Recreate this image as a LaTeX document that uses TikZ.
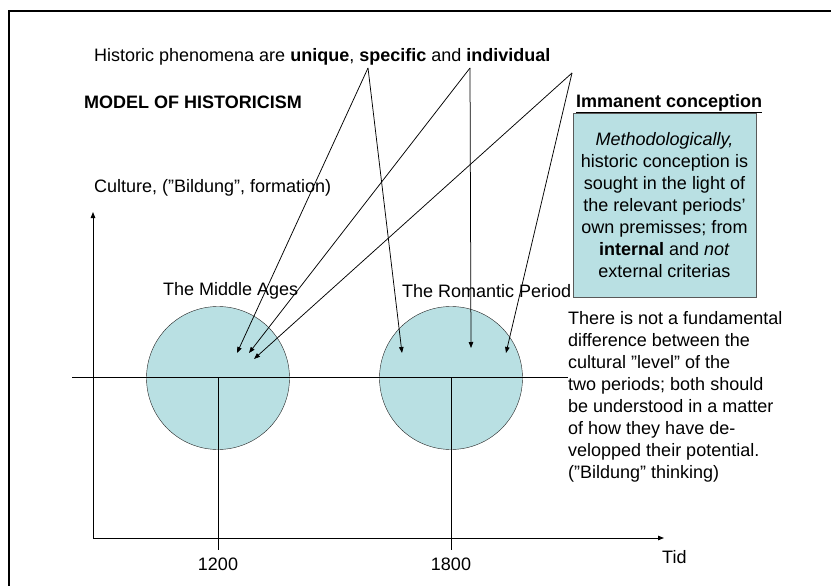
\documentclass[tikz,border=0pt]{standalone}
\usepackage{fontspec}
\setmainfont{Liberation Sans}
\usetikzlibrary{positioning, arrows.meta}

\definecolor{periodfill}{RGB}{185,224,227}

\begin{document}
\begin{tikzpicture}[
  x=1pt, y=-1pt,
  txt/.style={font=\fontsize{18}{22}\selectfont, inner sep=0pt},
  period/.style={circle, draw=black!85, fill=periodfill, minimum size=143pt, inner sep=0pt},
  infobox/.style={rectangle, draw=black!65, fill=periodfill, minimum width=183pt, minimum height=184pt,
    align=center, font=\fontsize{18}{22}\selectfont, inner sep=0pt},
  arrow/.style={-{Triangle[length=6pt, width=4.5pt]}, line width=0.75pt},
  axis/.style={-{Triangle[length=6pt, width=4.5pt]}, line width=1pt}
]

  \useasboundingbox (0,0) rectangle (831,586);

  % Frame
  \draw[line width=2pt] (9,590) -- (9,11.5) -- (835,11.5);

  % Headings
  \node[txt, anchor=west] (phenomena) at (94,57)
    {Historic phenomena are \textbf{unique}, \textbf{specific} and \textbf{individual}};
  \node[txt, anchor=west, font=\fontsize{18}{22}\selectfont\bfseries] (model) at (84,102) {MODEL OF HISTORICISM};

  % Immanent conception box
  \node[infobox] (method) at (664.5,205)
    {\textit{Methodologically,}\\ historic conception is\\ sought in the light of\\ the relevant periods’\\
     own premisses; from\\ \textbf{internal} and \textit{not}\\ external criterias};
  \node[txt, anchor=south west, font=\fontsize{18}{22}\selectfont\bfseries] (immanent) at (576,113)
    {\underline{Immanent conception}};

  % Periods
  \node[period] (medieval) at (218,378) {};
  \node[period] (romanticism) at (451,378) {};
  \node[txt, anchor=west] (middle) at (163,291) {The Middle Ages};
  \node[txt, anchor=west] (romantic) at (402,291) {The Romantic Period};

  % Axes
  \node[txt, anchor=west] (culture) at (94,188) {Culture, (”Bildung”, formation)};
  \coordinate (origin) at (93,538);
  \coordinate (yend) at (93,212);
  \coordinate (xend) at (664,538);
  \draw[axis] (origin) -- (yend);
  \draw[axis] (origin) -- (xend);
  \node[txt, anchor=west] (tid) at (662,557) {Tid};

  % Comment on the periods
  \node[txt, anchor=west, align=left] (difference) at (568,397)
    {There is not a fundamental\\ difference between the\\ cultural ”level” of the\\ two periods; both should\\
     be understood in a matter\\ of how they have de-\\ velopped their potential.\\ (”Bildung” thinking)};

  % Culture level line
  \coordinate (level) at (72,377);
  \draw[line width=1pt] (level) -- (level -| difference.west);

  % Time marks
  \coordinate (mark1200) at (218,550);
  \coordinate (mark1800) at (451,550);
  \draw[line width=0.9pt] (medieval.center |- level) -- (mark1200);
  \draw[line width=0.9pt] (romanticism.center |- level) -- (mark1800);
  \node[txt] (y1200) at (218,564) {1200};
  \node[txt] (y1800) at (451,564) {1800};

  % Arrows from the headline
  \coordinate (fork1) at (368,68);
  \coordinate (fork2) at (470,68);
  \coordinate (fork3) at (572,73);
  \coordinate (hit1) at (237,353);
  \coordinate (hit2) at (249,353);
  \coordinate (hit3) at (254,359);
  \coordinate (hit4) at (402,353);
  \coordinate (hit5) at (471,348);
  \coordinate (hit6) at (506,353);
  \draw[arrow] (fork1) -- (hit1);
  \draw[arrow] (fork1) -- (hit4);
  \draw[arrow] (fork2) -- (hit2);
  \draw[arrow] (fork2) -- (hit5);
  \draw[arrow] (fork3) -- (hit3);
  \draw[arrow] (fork3) -- (hit6);

\end{tikzpicture}
\end{document}
